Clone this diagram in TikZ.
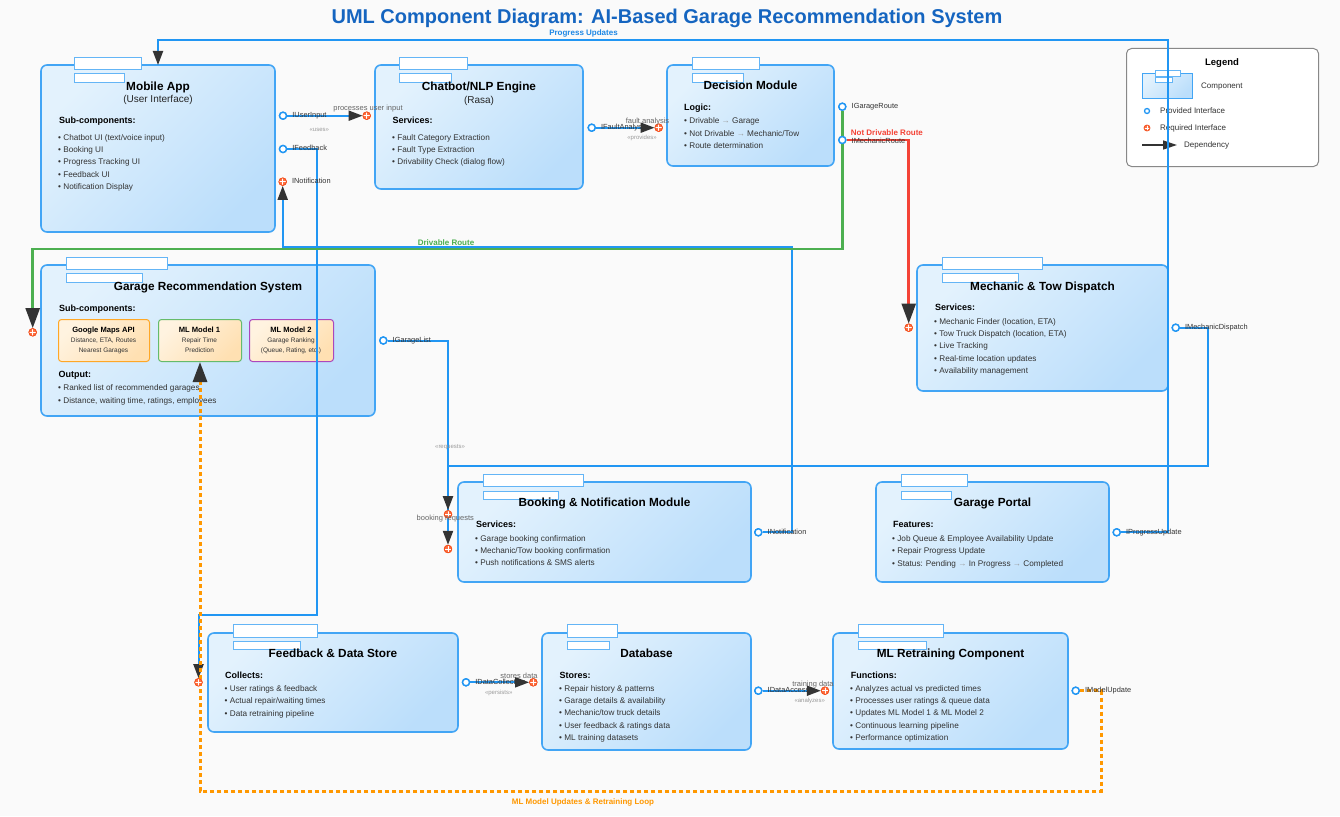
\documentclass[tikz,border=0pt]{standalone}
\usepackage{fontspec}
\setmainfont{Liberation Sans}
\usetikzlibrary{arrows.meta}

\definecolor{bg}{HTML}{FAFAFA}
\definecolor{titleblue}{HTML}{1565C0}
\definecolor{compb}{HTML}{42A5F5}
\definecolor{compl}{HTML}{E3F2FD}
\definecolor{compd}{HTML}{BBDEFB}
\definecolor{tabb}{HTML}{64B5F6}
\definecolor{conn}{HTML}{2196F3}
\definecolor{reqf}{HTML}{FF7043}
\definecolor{reqd}{HTML}{F4511E}
\definecolor{routeg}{HTML}{4CAF50}
\definecolor{router}{HTML}{F44336}
\definecolor{loopc}{HTML}{FF9800}
\definecolor{txt}{HTML}{333333}
\definecolor{labgray}{HTML}{666666}
\definecolor{stgray}{HTML}{999999}
\definecolor{subfl}{HTML}{FFF3E0}
\definecolor{subfd}{HTML}{FFE0B2}
\definecolor{gmapb}{HTML}{FFA726}
\definecolor{mlib}{HTML}{66BB6A}
\definecolor{mliib}{HTML}{AB47BC}
\definecolor{legb}{HTML}{888888}
\definecolor{tipc}{HTML}{333333}
\definecolor{publue}{HTML}{1E88E5}

% bullet lines of a component: name prefix, x, first baseline, items
\newcommand\itemlines[4]{%
  \foreach \itm [count=\i from 0] in {#4}{\node[bul] (#1-\i) at (#2,#3+12.4*\i) {• \itm};}}

\begin{document}
\begin{tikzpicture}[x=1pt,y=-1pt,
  comp/.style={draw=compb, line width=1.6, rounded corners=6, left color=compl, right color=compd,
    shading angle=45, anchor=north west, inner sep=0, outer sep=0},
  tabbox/.style={draw=tabb, fill=white, line width=1.2, anchor=north west, inner sep=0},
  subbox/.style={line width=1, rounded corners=3, left color=subfl, right color=subfd,
    shading angle=45, anchor=north west, inner sep=0},
  ctitle/.style={font=\fontsize{11.8}{14}\selectfont\bfseries, text=black, anchor=base, inner sep=0},
  csub/.style={font=\fontsize{10}{12}\selectfont, text=black!85, anchor=base, inner sep=0},
  chead/.style={font=\fontsize{9}{11}\selectfont\bfseries, text=black, anchor=base west, inner sep=0},
  bul/.style={font=\fontsize{8.2}{10}\selectfont, text=txt, anchor=base west, inner sep=0},
  stitle/.style={font=\fontsize{7.6}{9}\selectfont\bfseries, text=black, anchor=base, inner sep=0},
  stext/.style={font=\fontsize{6.5}{8}\selectfont, text=txt, anchor=base, inner sep=0},
  ilab/.style={font=\fontsize{7.4}{9}\selectfont, text=txt, anchor=west, inner sep=0,
    text height=5.3, text depth=1.5},
  clab/.style={font=\fontsize{7.5}{9}\selectfont, text=labgray, anchor=base, inner sep=0},
  stereo/.style={font=\fontsize{6}{7}\selectfont, text=stgray, anchor=base, inner sep=0},
  rlab/.style={font=\fontsize{8}{10}\selectfont\bfseries, anchor=base, inner sep=0},
  leglab/.style={font=\fontsize{8}{10}\selectfont, text=txt, anchor=west, inner sep=0,
    text height=5.6, text depth=1.6},
  prov/.style={circle, draw=conn, fill=white, line width=1.4, minimum size=7, inner sep=0},
  req/.style={circle, draw=reqd, fill=reqf, line width=0.8, minimum size=7.5, inner sep=0,
    path picture={\draw[white, line width=0.6pt]
      (path picture bounding box.north) -- (path picture bounding box.south)
      (path picture bounding box.west) -- (path picture bounding box.east);}},
  wire/.style={draw=conn, line width=2},
  dep/.style={-{Triangle[length=14pt,width=10pt,color=tipc]}},
  bigdep/.style={-{Triangle[length=20pt,width=14pt,color=tipc]}}
]
\fill[bg] (0,0) rectangle (1340,816);
\useasboundingbox (0,0) rectangle (1340,816);

% ---------- title ----------
\node[font=\fontsize{20}{24}\selectfont\bfseries, text=titleblue, anchor=base, inner sep=0]
  (title) at (667,24) {UML Component Diagram: AI-Based Garage Recommendation System};

% ---------- Mobile App ----------
\node[comp, minimum width=234, minimum height=167] (mobile) at (41,65) {};
\node[tabbox, minimum width=67, minimum height=12] (mobile-t1) at (74,57) {};
\node[tabbox, minimum width=50, minimum height=9] (mobile-t2) at (74,73) {};
\node[ctitle] (mobile-title) at (158,90) {Mobile App};
\node[csub] (mobile-sub) at (158,102.5) {(User Interface)};
\node[chead] (mobile-head) at (59,123.3) {Sub-components:};
\itemlines{mobile-b}{58}{140}{Chatbot UI (text/voice input), Booking UI, Progress Tracking UI, Feedback UI, Notification Display}

% ---------- Chatbot/NLP Engine ----------
\node[comp, minimum width=208, minimum height=124] (chat) at (375,65) {};
\node[tabbox, minimum width=68, minimum height=12] (chat-t1) at (399,57) {};
\node[tabbox, minimum width=52, minimum height=9] (chat-t2) at (399,73) {};
\node[ctitle] (chat-title) at (479,90) {Chatbot/NLP Engine};
\node[csub] (chat-sub) at (479,103) {(Rasa)};
\node[chead] (chat-head) at (392.5,123.7) {Services:};
\itemlines{chat-b}{392}{140}{Fault Category Extraction, Fault Type Extraction, Drivability Check (dialog flow)}

% ---------- Decision Module ----------
\node[comp, minimum width=167, minimum height=101] (decision) at (667,65) {};
\node[tabbox, minimum width=67, minimum height=12] (decision-t1) at (692,57) {};
\node[tabbox, minimum width=51, minimum height=9] (decision-t2) at (692,73) {};
\node[ctitle] (decision-title) at (750.5,89.5) {Decision Module};
\node[chead] (decision-head) at (684,110.7) {Logic:};
\itemlines{decision-b}{684}{123.7}{{Drivable {\color{stgray}→} Garage}, {Not Drivable {\color{stgray}→} Mechanic/Tow}, Route determination}

% ---------- Garage Recommendation System ----------
\node[comp, minimum width=334, minimum height=151] (grs) at (41,265) {};
\node[tabbox, minimum width=101, minimum height=12] (grs-t1) at (66,257) {};
\node[tabbox, minimum width=76, minimum height=9] (grs-t2) at (66,273) {};
\node[ctitle] (grs-title) at (208,290.7) {Garage Recommendation System};
\node[chead] (grs-head) at (59,311) {Sub-components:};
\node[subbox, draw=gmapb, minimum width=91, minimum height=42] (gmap) at (58,319) {};
\node[subbox, draw=mlib, minimum width=83, minimum height=42] (ml1) at (158,319) {};
\node[subbox, draw=mliib, minimum width=84, minimum height=42] (ml2) at (249,319) {};
\node[stitle] (gmap-t) at (103.5,332) {Google Maps API};
\node[stext] (gmap-a) at (103.5,342.7) {Distance, ETA, Routes};
\node[stext] (gmap-b) at (103.5,352.7) {Nearest Garages};
\node[stitle] (ml1-t) at (199.5,332) {ML Model 1};
\node[stext] (ml1-a) at (199.5,342.7) {Repair Time};
\node[stext] (ml1-b) at (199.5,352.7) {Prediction};
\node[stitle] (ml2-t) at (291,332) {ML Model 2};
\node[stext] (ml2-a) at (291,342.7) {Garage Ranking};
\node[stext] (ml2-b) at (291,352.7) {(Queue, Rating, etc.)};
\node[chead] (grs-out) at (58.5,377.7) {Output:};
\itemlines{grs-b}{58}{390.7}{Ranked list of recommended garages, {Distance, waiting time, ratings, employees}}

% ---------- Mechanic & Tow Dispatch ----------
\node[comp, minimum width=251, minimum height=126] (mech) at (917,265) {};
\node[tabbox, minimum width=100, minimum height=12] (mech-t1) at (942,257) {};
\node[tabbox, minimum width=76, minimum height=9] (mech-t2) at (942,273) {};
\node[ctitle] (mech-title) at (1042.5,290) {Mechanic \& Tow Dispatch};
\node[chead] (mech-head) at (935,310.7) {Services:};
\itemlines{mech-b}{934}{324}{{Mechanic Finder (location, ETA)}, {Tow Truck Dispatch (location, ETA)}, Live Tracking, Real-time location updates, Availability management}

% ---------- Booking & Notification Module ----------
\node[comp, minimum width=293, minimum height=100] (booking) at (458,482) {};
\node[tabbox, minimum width=100, minimum height=12] (booking-t1) at (483,474) {};
\node[tabbox, minimum width=75, minimum height=8] (booking-t2) at (483,491) {};
\node[ctitle] (booking-title) at (604.5,506.7) {Booking \& Notification Module};
\node[chead] (booking-head) at (476,527.7) {Services:};
\itemlines{booking-b}{475}{541}{Garage booking confirmation, Mechanic/Tow booking confirmation, Push notifications \& SMS alerts}

% ---------- Garage Portal ----------
\node[comp, minimum width=233, minimum height=100] (portal) at (876,482) {};
\node[tabbox, minimum width=66, minimum height=12] (portal-t1) at (901,474) {};
\node[tabbox, minimum width=50, minimum height=8] (portal-t2) at (901,491) {};
\node[ctitle] (portal-title) at (992.5,506.7) {Garage Portal};
\node[chead] (portal-head) at (893,527.3) {Features:};
\itemlines{portal-b}{892}{541.3}{Job Queue \& Employee Availability Update, Repair Progress Update, {Status: Pending {\color{stgray}→} In Progress {\color{stgray}→} Completed}}

% ---------- Feedback & Data Store ----------
\node[comp, minimum width=250, minimum height=99] (feedback) at (208,633) {};
\node[tabbox, minimum width=84, minimum height=13] (feedback-t1) at (233,624) {};
\node[tabbox, minimum width=67, minimum height=8] (feedback-t2) at (233,641) {};
\node[ctitle] (feedback-title) at (333,657.7) {Feedback \& Data Store};
\node[chead] (feedback-head) at (225,678.7) {Collects:};
\itemlines{feedback-b}{224.5}{691.3}{User ratings \& feedback, Actual repair/waiting times, Data retraining pipeline}

% ---------- Database ----------
\node[comp, minimum width=209, minimum height=117] (database) at (542,633) {};
\node[tabbox, minimum width=50, minimum height=13] (database-t1) at (567,624) {};
\node[tabbox, minimum width=42, minimum height=8] (database-t2) at (567,641) {};
\node[ctitle] (database-title) at (646.5,657.7) {Database};
\node[chead] (database-head) at (559.3,678.7) {Stores:};
\itemlines{database-b}{559}{691}{Repair history \& patterns, Garage details \& availability, Mechanic/tow truck details, User feedback \& ratings data, ML training datasets}

% ---------- ML Retraining Component ----------
\node[comp, minimum width=235, minimum height=116] (mlret) at (833,633) {};
\node[tabbox, minimum width=85, minimum height=13] (mlret-t1) at (858,624) {};
\node[tabbox, minimum width=68, minimum height=8] (mlret-t2) at (858,641) {};
\node[ctitle] (mlret-title) at (950.5,657.7) {ML Retraining Component};
\node[chead] (mlret-head) at (850.7,678.3) {Functions:};
\itemlines{mlret-b}{850}{691}{Analyzes actual vs predicted times, Processes user ratings \& queue data, Updates ML Model 1 \& ML Model 2, Continuous learning pipeline, Performance optimization}

% ---------- Legend ----------
\node[draw=legb, fill=white, rounded corners=5, line width=1, anchor=north west,
  minimum width=192, minimum height=118, inner sep=0] (legend) at (1126,48) {};
\node[font=\fontsize{9.5}{11}\selectfont\bfseries, anchor=base, inner sep=0] (legend-title) at (1222,65) {Legend};
\node[comp, line width=1, rounded corners=0, minimum width=50, minimum height=25] (leg-comp) at (1142,73) {};
\node[tabbox, line width=0.9, minimum width=25, minimum height=5.5] (leg-t1) at (1155,70) {};
\node[tabbox, line width=0.9, minimum width=17, minimum height=5] (leg-t2) at (1155,77) {};
\node[leglab] (leg-comp-l) at (1201,86) {Component};
\node[prov, minimum size=5, line width=1.3] (leg-prov) at (1147,111) {};
\node[leglab] (leg-prov-l) at (1160,111) {Provided Interface};
\node[req, minimum size=6] (leg-req) at (1147,128) {};
\node[leglab] (leg-req-l) at (1160,128) {Required Interface};
\coordinate (leg-a) at (1142,145);
\coordinate (leg-b) at (1177,145);
\draw[tipc, line width=1.3, -{Triangle[length=14pt,width=9pt,color=tipc]}] (leg-a) -- (leg-b);
\node[leglab] (leg-dep-l) at (1184,145) {Dependency};

% ---------- interfaces ----------
\node[prov] (iuser)  at (283,115.7) {};
\node[prov] (ifeed)  at (283,149) {};
\node[req]  (mobnot) at (282.7,181.7) {};
\node[req]  (chatreq) at (366.7,115.7) {};
\node[prov] (ifault) at (591.7,127.7) {};
\node[req]  (decreq) at (658.7,127.7) {};
\node[prov] (igroute) at (842.3,106.7) {};
\node[prov] (imroute) at (842.3,140) {};
\node[req]  (grsreq) at (32.7,332.3) {};
\node[prov] (iglist) at (383.3,340.5) {};
\node[req]  (mechreq) at (908.7,327.7) {};
\node[prov] (imdisp) at (1175.7,327.7) {};
\node[req]  (bkreq1) at (448,514.3) {};
\node[req]  (bkreq2) at (448,549) {};
\node[prov] (inotb) at (758.3,532.3) {};
\node[prov] (iprog) at (1116.7,532.3) {};
\node[req]  (fbreq) at (198.5,682.3) {};
\node[prov] (idcol) at (466,682.3) {};
\node[req]  (dbreq) at (533.3,682.3) {};
\node[prov] (idacc) at (758.3,690.7) {};
\node[req]  (mlreq) at (825,690.7) {};
\node[prov] (imodel) at (1075.7,690.7) {};

% ---------- connectors ----------
\draw[wire, dep] (iprog) -| (1168,40) -| (mobile.north);
\draw[wire, dep] (inotb) -| (792,246.5) -| (mobnot);
\draw[wire, dep] (ifeed) -| (316.5,615) -| (fbreq);
\draw[wire, dep] (iglist) -| (bkreq2);
\draw[wire, dep] (imdisp) -| (1208,465.7) -| (bkreq1);
\draw[wire, dep] (iuser) -- (chatreq);
\draw[wire, dep] (ifault) -- (decreq);
\draw[wire, dep] (idcol) -- (dbreq);
\draw[wire, dep] (idacc) -- (mlreq);
\draw[routeg, line width=2.5, bigdep] (igroute) |- (32.7,249) -- (grsreq);
\draw[router, line width=2.5, bigdep] (imroute) -| (mechreq);
\draw[loopc, line width=3, dash pattern=on 4pt off 3pt, bigdep] (imodel) -| (1101,791) -| (ml1.south);

% redraw interface symbols above the wires
\foreach \n in {iuser, ifeed, ifault, igroute, imroute, iglist, imdisp, inotb, iprog, idcol, idacc, imodel}
  \node[prov] at (\n) {};
\foreach \n in {mobnot, chatreq, decreq, grsreq, mechreq, bkreq1, bkreq2, fbreq, dbreq, mlreq}
  \node[req] at (\n) {};

% ---------- interface labels ----------
\node[ilab] (iuser-l) at ([xshift=5pt]iuser.east) {IUserInput};
\node[ilab] (ifeed-l) at ([xshift=5pt]ifeed.east) {IFeedback};
\node[ilab] (mobnot-l) at ([xshift=5pt]mobnot.east) {INotification};
\node[ilab] (ifault-l) at ([xshift=5pt]ifault.east) {IFaultAnalysis};
\node[ilab] (igroute-l) at ([xshift=5pt]igroute.east) {IGarageRoute};
\node[ilab] (imroute-l) at ([xshift=5pt,yshift=-2pt]imroute.east) {IMechanicRoute};
\node[ilab] (iglist-l) at ([xshift=5pt]iglist.east) {IGarageList};
\node[ilab] (imdisp-l) at ([xshift=5pt]imdisp.east) {IMechanicDispatch};
\node[ilab] (inotb-l) at ([xshift=5pt]inotb.east) {INotification};
\node[ilab] (iprog-l) at ([xshift=5pt]iprog.east) {IProgressUpdate};
\node[ilab] (idcol-l) at ([xshift=5pt]idcol.east) {IDataCollection};
\node[ilab] (idacc-l) at ([xshift=5pt]idacc.east) {IDataAccess};
\node[ilab] (imodel-l) at ([xshift=5pt]imodel.east) {IModelUpdate};

% ---------- connector labels ----------
\node[clab] (lab-proc) at (368,110.7) {processes user input};
\node[stereo] (lab-uses) at (319.3,131) {«uses»};
\node[clab] (lab-fault) at (647.5,123) {fault analysis};
\node[stereo] (lab-prov) at (642,139.3) {«provides»};
\node[stereo] (lab-req) at (450,448.3) {«requests»};
\node[clab] (lab-book) at (445.3,520) {booking requests};
\node[clab] (lab-store) at (519,678.7) {stores data};
\node[stereo] (lab-pers) at (498.7,694) {«persists»};
\node[clab] (lab-train) at (813,686) {training data};
\node[stereo] (lab-anal) at (809.7,702.7) {«analyzes»};
\node[rlab, text=publue] (lab-progress) at (583.5,36) {Progress Updates};
\node[rlab, text=routeg] (lab-drive) at (446,245) {Drivable Route};
\node[rlab, text=router, anchor=base west] (lab-notdrive) at (850.7,135.7) {Not Drivable Route};
\node[rlab, text=loopc] (lab-loop) at (583,804) {ML Model Updates \& Retraining Loop};
\end{tikzpicture}
\end{document}
